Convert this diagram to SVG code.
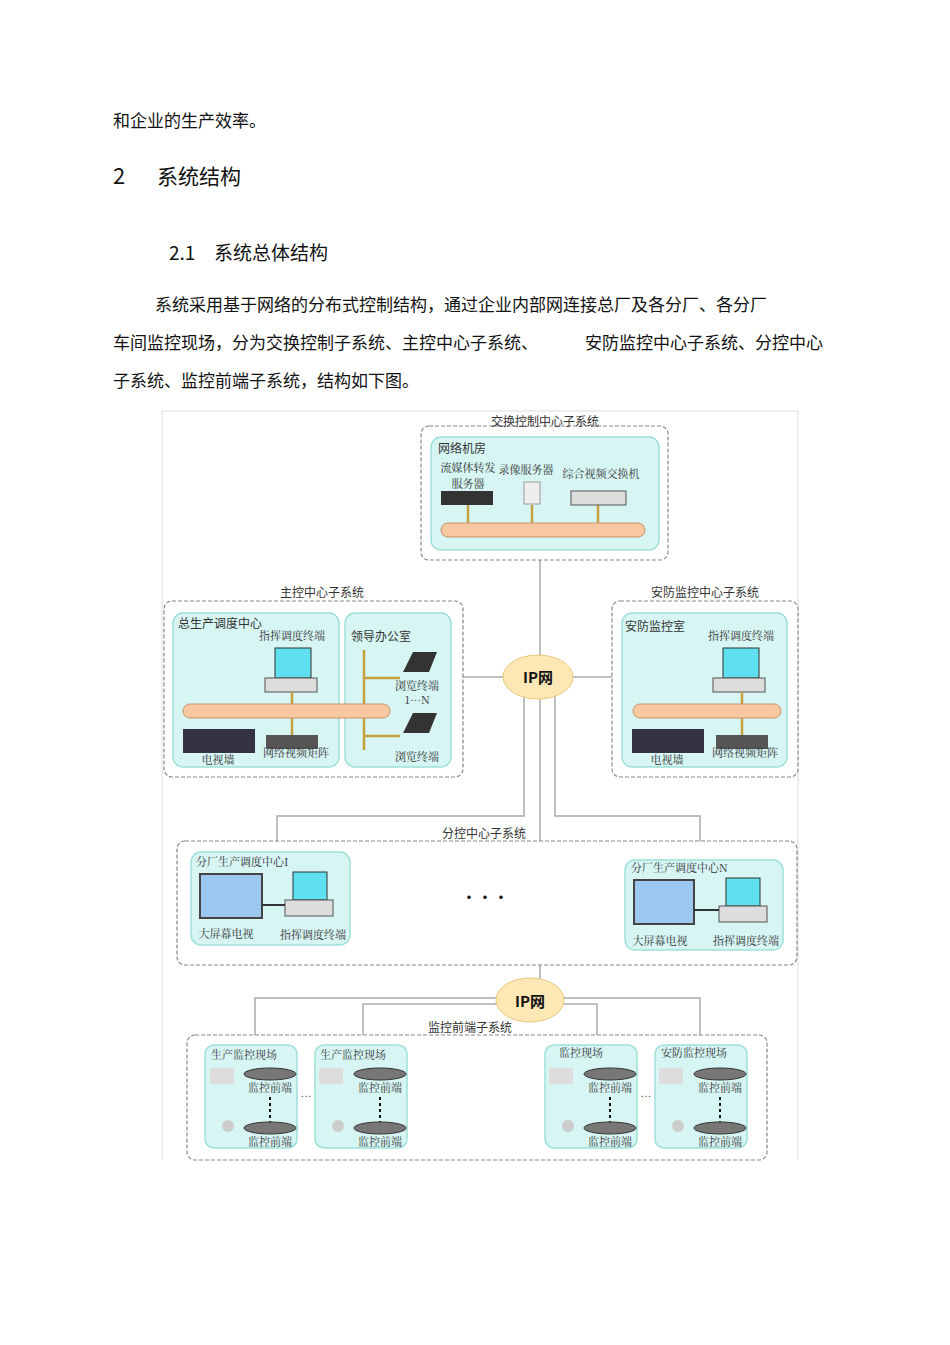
<svg xmlns="http://www.w3.org/2000/svg" width="950" height="1345" viewBox="0 0 950 1345">
<style>
.body{font-family:"Noto Sans CJK SC","Noto Sans",sans-serif;font-size:17px;fill:#111}
.h{font-family:"Noto Sans CJK SC","Noto Sans",sans-serif;fill:#111}
.s{font-family:"Noto Serif CJK SC","Noto Sans CJK SC",serif;font-size:11px;fill:#333}
.m{font-family:"Noto Sans CJK SC",sans-serif;font-size:12px;fill:#333}
.dash{fill:#fff;stroke:#888;stroke-dasharray:4,2;stroke-width:1.2}
.in{fill:#d6f5f3;stroke:#9fe0d8;stroke-width:1.5}
.pipe{fill:#f8c9a0;stroke:#c9926a;stroke-width:1}
.ln{stroke:#aaa;stroke-width:1.5;fill:none}
.or{stroke:#c9a040;stroke-width:2.5}
.cloud{fill:#fde7b4;stroke:#e8c77a}
.dev{fill:#777;stroke:#333}
.scr{fill:#9cc8ef;stroke:#444;stroke-width:2}
</style>
<rect width="950" height="1345" fill="#fff"/>
<text x="113" y="127" class="body">和企业的生产效率。</text>
<text x="113" y="184" class="h" font-size="22">2</text>
<text x="157" y="184" class="h" font-size="21">系统结构</text>
<text x="169" y="260" class="h" font-size="19">2.1</text>
<text x="214" y="260" class="h" font-size="19">系统总体结构</text>
<text x="155" y="311" class="body">系统采用基于网络的分布式控制结构，通过企业内部网连接总厂及各分厂、各分厂</text>
<text x="113" y="349" class="body">车间监控现场，分为交换控制子系统、主控中心子系统、</text>
<text x="585" y="349" class="body">安防监控中心子系统、分控中心</text>
<text x="113" y="387" class="body">子系统、监控前端子系统，结构如下图。</text>

<path d="M162 1160V411H798V1160" fill="none" stroke="#ddd"/>

<g id="connectors">
<path class="ln" d="M540 560V985M463 677H505M572 677H612M524 690V816H277V850M555 690V816H700V860"/>
<path class="ln" d="M500 998H255V1045M500 1004H363V1045M560 1004H597V1045M560 998H700V1045"/>
</g>

<g id="exchange">
<rect class="dash" x="421" y="426" width="247" height="134" rx="8"/>
<text x="545" y="426" class="m" text-anchor="middle">交换控制中心子系统</text>
<rect class="in" x="431" y="437" width="228" height="113" rx="10"/>
<text x="438" y="453" class="m">网络机房</text>
<text x="468" y="472" class="s" font-size="10" text-anchor="middle">流媒体转发</text>
<text x="468" y="488" class="s" font-size="10" text-anchor="middle">服务器</text>
<text x="526" y="474" class="s" font-size="10" text-anchor="middle">录像服务器</text>
<text x="601" y="478" class="s" font-size="10" text-anchor="middle">综合视频交换机</text>
<line class="or" x1="468" y1="505" x2="468" y2="525"/><line class="or" x1="532" y1="505" x2="532" y2="525"/><line class="or" x1="598" y1="505" x2="598" y2="525"/>
<rect x="441" y="491" width="52" height="14" fill="#333"/>
<rect x="524" y="482" width="16" height="22" fill="#eee" stroke="#999"/>
<rect x="571" y="491" width="55" height="14" fill="#ddd" stroke="#555"/>
<rect class="pipe" x="441" y="523" width="204" height="14" rx="7"/>
</g>

<g id="main">
<rect class="dash" x="164" y="601" width="299" height="176" rx="8"/>
<text x="322" y="597" class="m" text-anchor="middle">主控中心子系统</text>
<rect class="in" x="173" y="613" width="166" height="154" rx="10"/>
<rect class="in" x="345" y="613" width="106" height="154" rx="10"/>
<text x="178" y="628" class="m">总生产调度中心</text>
<text x="292" y="640" class="s" font-size="10" text-anchor="middle">指挥调度终端</text>
<text x="351" y="641" class="m">领导办公室</text>
<rect x="275" y="648" width="36" height="30" fill="#5fe0f0" stroke="#333"/>
<rect x="265" y="678" width="52" height="14" fill="#ddd" stroke="#555"/>
<line class="or" x1="292" y1="692" x2="292" y2="740"/>
<line class="or" x1="364" y1="650" x2="364" y2="750"/><line class="or" x1="364" y1="678" x2="400" y2="678"/><line class="or" x1="364" y1="736" x2="400" y2="736"/>
<path d="M403 672l10-20h24l-8 20z" fill="#333"/><path d="M403 733l10-20h24l-8 20z" fill="#333"/>
<rect class="pipe" x="183" y="704" width="207" height="14" rx="7"/>
<rect x="183" y="729" width="72" height="24" fill="#334"/>
<rect x="266" y="735" width="52" height="14" fill="#555"/>
<text x="218" y="764" class="s" font-size="10" text-anchor="middle">电视墙</text>
<text x="296" y="757" class="s" font-size="10" text-anchor="middle">网络视频矩阵</text>
<text x="417" y="690" class="s" font-size="8" text-anchor="middle">浏览终端</text>
<text x="417" y="704" class="s" font-size="8" text-anchor="middle">1···N</text>
<text x="417" y="761" class="s" font-size="8" text-anchor="middle">浏览终端</text>
</g>

<g id="security">
<rect class="dash" x="612" y="601" width="186" height="176" rx="8"/>
<text x="705" y="597" class="m" text-anchor="middle">安防监控中心子系统</text>
<rect class="in" x="622" y="613" width="165" height="154" rx="10"/>
<text x="625" y="631" class="m">安防监控室</text>
<text x="741" y="640" class="s" font-size="10" text-anchor="middle">指挥调度终端</text>
<rect x="723" y="648" width="36" height="30" fill="#5fe0f0" stroke="#333"/>
<rect x="713" y="678" width="52" height="14" fill="#ddd" stroke="#555"/>
<line class="or" x1="742" y1="692" x2="742" y2="740"/>
<rect class="pipe" x="633" y="704" width="148" height="14" rx="7"/>
<rect x="632" y="729" width="72" height="24" fill="#334"/>
<rect x="716" y="735" width="52" height="14" fill="#555"/>
<text x="667" y="764" class="s" font-size="10" text-anchor="middle">电视墙</text>
<text x="745" y="757" class="s" font-size="10" text-anchor="middle">网络视频矩阵</text>
</g>

<g id="ipcloud1">
<ellipse class="cloud" cx="538" cy="677" rx="35" ry="22"/>
<text x="538" y="683" class="h" font-size="15" font-weight="bold" text-anchor="middle">IP网</text>
</g>

<g id="branch">
<rect class="dash" x="177" y="841" width="620" height="124" rx="8"/>
<text x="484" y="838" class="m" text-anchor="middle">分控中心子系统</text>
<rect class="in" x="191" y="852" width="159" height="93" rx="10"/>
<text x="196" y="866" class="s" font-size="10">分厂生产调度中心I</text>
<rect class="scr" x="200" y="874" width="62" height="44"/>
<rect x="293" y="872" width="34" height="28" fill="#5fe0f0" stroke="#333"/>
<rect x="285" y="900" width="48" height="16" fill="#ddd" stroke="#555"/>
<line x1="262" y1="905" x2="285" y2="905" stroke="#333" stroke-width="2"/>
<text x="226" y="938" class="s" font-size="10" text-anchor="middle">大屏幕电视</text>
<text x="313" y="939" class="s" font-size="10" text-anchor="middle">指挥调度终端</text>
<text x="485" y="903" class="h" font-size="16" text-anchor="middle">···</text>
<rect class="in" x="625" y="860" width="158" height="90" rx="10"/>
<text x="631" y="872" class="s" font-size="10">分厂生产调度中心N</text>
<rect class="scr" x="634" y="880" width="60" height="44"/>
<rect x="726" y="878" width="34" height="28" fill="#5fe0f0" stroke="#333"/>
<rect x="719" y="906" width="48" height="16" fill="#ddd" stroke="#555"/>
<line x1="694" y1="910" x2="719" y2="910" stroke="#333" stroke-width="2"/>
<text x="660" y="945" class="s" font-size="10" text-anchor="middle">大屏幕电视</text>
<text x="746" y="945" class="s" font-size="10" text-anchor="middle">指挥调度终端</text>
</g>

<g id="ipcloud2">
<ellipse class="cloud" cx="530" cy="1000" rx="34" ry="22"/>
<text x="530" y="1007" class="h" font-size="15" font-weight="bold" text-anchor="middle">IP网</text>
</g>

<g id="front">
<rect class="dash" x="187" y="1035" width="580" height="125" rx="8"/>
<text x="470" y="1032" class="m" text-anchor="middle">监控前端子系统</text>
<g id="site1">
<rect class="in" x="205" y="1045" width="92" height="103" rx="9"/>
<text x="211" y="1059" class="s" font-size="10">生产监控现场</text>
<rect x="210" y="1068" width="24" height="16" fill="#ddd"/><ellipse class="dev" cx="270" cy="1074" rx="26" ry="6"/>
<text x="270" y="1092" class="s" font-size="10" text-anchor="middle">监控前端</text>
<path d="M270 1097v25" stroke="#111" stroke-width="2" stroke-dasharray="3,3"/>
<circle cx="228" cy="1126" r="6" fill="#ccc"/><ellipse class="dev" cx="270" cy="1128" rx="26" ry="6"/>
<text x="270" y="1146" class="s" font-size="10" text-anchor="middle">监控前端</text>
</g>
<text x="306" y="1100" class="s" text-anchor="middle">···</text>
<g id="site2">
<rect class="in" x="315" y="1045" width="92" height="103" rx="9"/>
<text x="320" y="1059" class="s" font-size="10">生产监控现场</text>
<rect x="319" y="1068" width="24" height="16" fill="#ddd"/><ellipse class="dev" cx="380" cy="1074" rx="26" ry="6"/>
<text x="380" y="1092" class="s" font-size="10" text-anchor="middle">监控前端</text>
<path d="M380 1097v25" stroke="#111" stroke-width="2" stroke-dasharray="3,3"/>
<circle cx="338" cy="1126" r="6" fill="#ccc"/><ellipse class="dev" cx="380" cy="1128" rx="26" ry="6"/>
<text x="380" y="1146" class="s" font-size="10" text-anchor="middle">监控前端</text>
</g>
<g id="site3">
<rect class="in" x="545" y="1045" width="92" height="103" rx="9"/>
<text x="559" y="1057" class="s" font-size="10">监控现场</text>
<rect x="549" y="1068" width="24" height="16" fill="#ddd"/><ellipse class="dev" cx="610" cy="1074" rx="26" ry="6"/>
<text x="610" y="1092" class="s" font-size="10" text-anchor="middle">监控前端</text>
<path d="M610 1097v25" stroke="#111" stroke-width="2" stroke-dasharray="3,3"/>
<circle cx="568" cy="1126" r="6" fill="#ccc"/><ellipse class="dev" cx="610" cy="1128" rx="26" ry="6"/>
<text x="610" y="1146" class="s" font-size="10" text-anchor="middle">监控前端</text>
</g>
<text x="646" y="1100" class="s" text-anchor="middle">···</text>
<g id="site4">
<rect class="in" x="655" y="1045" width="92" height="103" rx="9"/>
<text x="661" y="1057" class="s" font-size="10">安防监控现场</text>
<rect x="659" y="1068" width="24" height="16" fill="#ddd"/><ellipse class="dev" cx="720" cy="1074" rx="26" ry="6"/>
<text x="720" y="1092" class="s" font-size="10" text-anchor="middle">监控前端</text>
<path d="M720 1097v25" stroke="#111" stroke-width="2" stroke-dasharray="3,3"/>
<circle cx="678" cy="1126" r="6" fill="#ccc"/><ellipse class="dev" cx="720" cy="1128" rx="26" ry="6"/>
<text x="720" y="1146" class="s" font-size="10" text-anchor="middle">监控前端</text>
</g>
</g>
</svg>
